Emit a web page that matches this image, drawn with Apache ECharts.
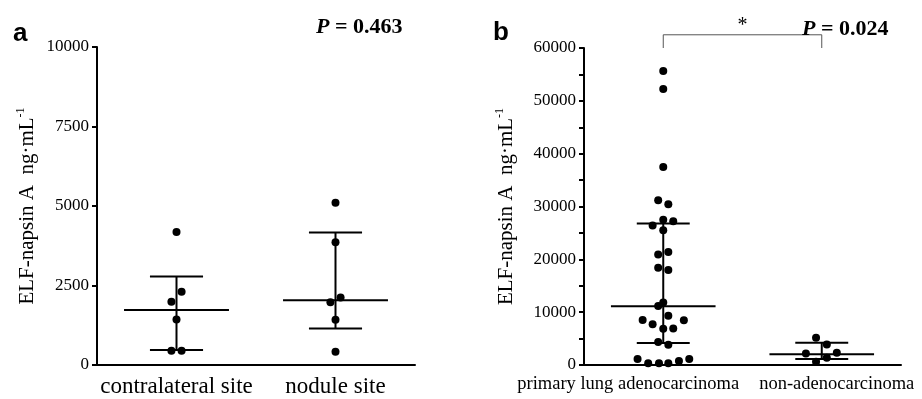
<!DOCTYPE html>
<html>
<head>
<meta charset="utf-8">
<script src="https://cdn.jsdelivr.net/npm/echarts/dist/echarts.min.js"></script>
<style>
  html, body { margin: 0; padding: 0; background: #fff; }
  #chart { width: 922px; height: 399px; }
</style>
</head>
<body>
<div id="chart"></div>
<script>
const serif = '"Liberation Serif", "Times New Roman", serif'
const sans = '"Liberation Sans", Arial, sans-serif'

// panel a
const groupsA = ['contralateral site', 'nodule site']
const contralateralValues = [4180, 2300, 1990, 1430, 450, 450]
const contralateralJitter = [0, 0.032, -0.032, 0, -0.032, 0.032]
const noduleValues = [5100, 3860, 2120, 1970, 1420, 420]
const noduleJitter = [0, 0, 0.032, -0.032, 0, 0]
// [lower, median, upper]
const summaryA = [[470, 1730, 2780], [1150, 2040, 4170]]
const ticksA = [0, 2500, 5000, 7500, 10000]

// panel b
const groupsB = ['primary lung adenocarcinoma', 'non-adenocarcinoma']
const adenoValues = [55650, 52240, 37500, 31200, 30440, 27500, 27200, 26400, 25500,
  21400, 20900, 18400, 18000, 11850, 11150, 9300, 8500, 8450, 7700, 6870, 6930,
  4350, 3850, 1130, 1130, 320, 320, 320, 760]
const adenoJitter = [0, 0, 0, -0.032, 0.032, 0, 0.063, -0.067, 0, 0.032, -0.032,
  -0.032, 0.032, 0, -0.032, 0.032, -0.13, 0.13, -0.067, 0, 0.063, -0.032, 0.032,
  -0.162, 0.164, -0.095, -0.027, 0.032, 0.099]
const nonAdenoValues = [5160, 3900, 2200, 2330, 1390, 630]
const nonAdenoJitter = [-0.036, 0.032, -0.1, 0.095, 0.032, -0.036]
const summaryB = [[4160, 11100, 26800], [1130, 2020, 4220]]
const ticksB = [0, 10000, 20000, 30000, 40000, 50000, 60000]

const pValues = ['0.463', '0.024']

function toPoints (values, jitter) {
  return values.flatMap((vals, g) => vals.map((v, i) => [g + jitter[g][i], v]))
}

function renderSummary (params, api) {
  const g = api.value(0)
  const lo = api.coord([g, api.value(1)])
  const med = api.coord([g, api.value(2)])
  const hi = api.coord([g, api.value(3)])
  const w = api.size([1, 0])[0]
  const style = { stroke: '#000', lineWidth: 2 }
  const hline = (p, half) => ({
    type: 'line', shape: { x1: p[0] - half * w, y1: p[1], x2: p[0] + half * w, y2: p[1] }, style
  })
  return {
    type: 'group',
    children: [
      { type: 'line', shape: { x1: lo[0], y1: lo[1], x2: hi[0], y2: hi[1] }, style },
      hline(med, 0.33),
      hline(lo, 0.167),
      hline(hi, 0.167)
    ]
  }
}

function renderBracket (params, api) {
  const a = api.coord([api.value(0), api.value(2)])
  const b = api.coord([api.value(0), api.value(3)])
  const c = api.coord([api.value(1), api.value(3)])
  const d = api.coord([api.value(1), api.value(2)])
  return {
    type: 'group',
    children: [
      { type: 'polyline', shape: { points: [a, b, c, d] }, style: { stroke: '#555', lineWidth: 1, fill: null } },
      {
        type: 'text',
        style: {
          text: '*', x: (b[0] + c[0]) / 2, y: b[1] - 9, align: 'center', verticalAlign: 'middle',
          font: '20px ' + serif, fill: '#000'
        }
      }
    ]
  }
}

const yName = '{m|ELF-napsin A  ng·mL}{s|-1}'
const yNameStyle = {
  rich: {
    m: { fontFamily: serif, fontSize: 21, color: '#000' },
    s: { fontFamily: serif, fontSize: 12, color: '#000', padding: [0, 0, 12, 0] }
  }
}

function yAxis (gridIndex, max, interval, labels, nameGap) {
  return {
    type: 'value',
    gridIndex,
    min: 0,
    max,
    interval,
    name: yName,
    nameLocation: 'middle',
    nameGap,
    nameTextStyle: yNameStyle,
    axisLine: { show: true, onZero: false, lineStyle: { color: '#000', width: 2 } },
    axisTick: { show: true, length: 5, lineStyle: { color: '#000', width: 2 } },
    axisLabel: {
      color: '#000', fontFamily: serif, fontSize: 17, margin: 8,
      formatter: v => labels.includes(v) ? String(v) : ''
    },
    splitLine: { show: false }
  }
}

function catAxis (gridIndex, data, fontSize, margin) {
  return {
    type: 'category',
    gridIndex,
    data,
    axisLine: { onZero: false, lineStyle: { color: '#000', width: 2 } },
    axisTick: { alignWithLabel: true, length: 6, lineStyle: { color: '#000', width: 2 } },
    axisLabel: { color: '#000', fontFamily: serif, fontSize, margin, interval: 0 }
  }
}

const hiddenX = gridIndex => ({ type: 'value', gridIndex, min: -0.5, max: 1.5, show: false })

const chart = echarts.init(document.getElementById('chart'))
chart.setOption({
  animation: false,
  backgroundColor: '#fff',
  title: [
    { text: 'a', left: 8, top: 16, textStyle: { fontFamily: sans, fontWeight: 'bold', fontSize: 26, color: '#000' } },
    { text: 'b', left: 488, top: 15, textStyle: { fontFamily: sans, fontWeight: 'bold', fontSize: 26, color: '#000' } },
    {
      text: '{i|P} = ' + pValues[0], left: 311, top: 11,
      textStyle: { fontFamily: serif, fontWeight: 'bold', fontSize: 22, color: '#000', rich: { i: { fontFamily: serif, fontWeight: 'bold', fontStyle: 'italic', fontSize: 22, color: '#000' } } }
    },
    {
      text: '{i|P} = ' + pValues[1], left: 797, top: 13,
      textStyle: { fontFamily: serif, fontWeight: 'bold', fontSize: 22, color: '#000', rich: { i: { fontFamily: serif, fontWeight: 'bold', fontStyle: 'italic', fontSize: 22, color: '#000' } } }
    }
  ],
  grid: [
    { left: 97, top: 47, width: 318, height: 318 },
    { left: 584, top: 48, width: 317, height: 317 }
  ],
  xAxis: [
    catAxis(0, groupsA, 23, 10),
    hiddenX(0),
    catAxis(1, [
      { value: groupsB[0], textStyle: { padding: [0, 70, 0, 0] } },
      { value: groupsB[1], textStyle: { padding: [0, 0, 0, 30] } }
    ], 18.5, 10),
    hiddenX(1)
  ],
  yAxis: [
    yAxis(0, 10000, 2500, ticksA, 58),
    yAxis(1, 60000, 5000, ticksB, 66)
  ],
  series: [
    {
      type: 'custom', xAxisIndex: 1, yAxisIndex: 0,
      data: summaryA.map((s, g) => [g, ...s]),
      renderItem: renderSummary
    },
    {
      type: 'scatter', xAxisIndex: 1, yAxisIndex: 0,
      data: toPoints([contralateralValues, noduleValues], [contralateralJitter, noduleJitter]),
      symbolSize: 8, itemStyle: { color: '#000', opacity: 1 }
    },
    {
      type: 'custom', xAxisIndex: 3, yAxisIndex: 1,
      data: summaryB.map((s, g) => [g, ...s]),
      renderItem: renderSummary
    },
    {
      type: 'scatter', xAxisIndex: 3, yAxisIndex: 1,
      data: toPoints([adenoValues, nonAdenoValues], [adenoJitter, nonAdenoJitter]),
      symbolSize: 8, itemStyle: { color: '#000', opacity: 1 }
    },
    {
      type: 'custom', xAxisIndex: 3, yAxisIndex: 1, clip: false,
      data: [[0, 1, 60000, 62500]],
      renderItem: renderBracket
    }
  ]
})
</script>
</body>
</html>
